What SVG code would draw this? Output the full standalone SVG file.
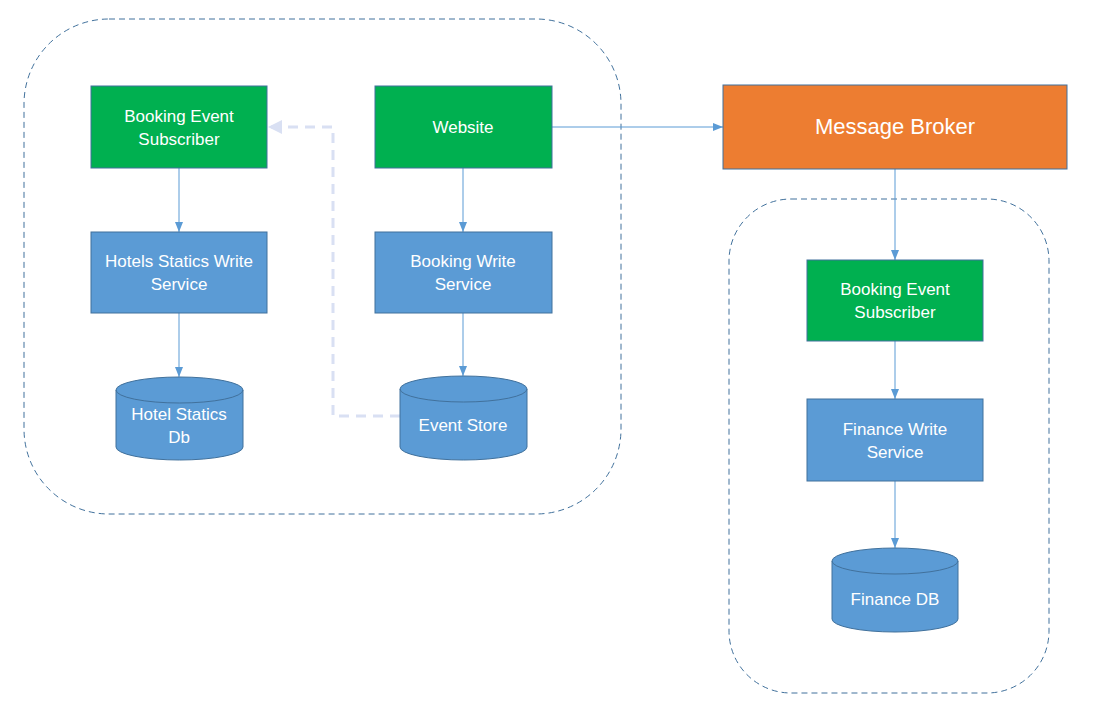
<svg xmlns="http://www.w3.org/2000/svg" width="1104" height="711" viewBox="0 0 1104 711">
<style>
.box{stroke:#41719C;stroke-width:1}
.g{fill:#00B050}
.b{fill:#5B9BD5}
.o{fill:#ED7D31}
.t{font-family:"Liberation Sans",Arial,sans-serif;font-size:17px;fill:#fff;text-anchor:middle}
.cont{fill:none;stroke:#41719C;stroke-width:1;stroke-dasharray:6,4}
.c{fill:none;stroke:#5B9BD5;stroke-width:1}
</style>
<defs>
<marker id="ah" viewBox="0 0 10 10" refX="10" refY="5" markerWidth="10" markerHeight="10" markerUnits="userSpaceOnUse" orient="auto">
<path d="M0,1 L10,5 L0,9 Z" fill="#5B9BD5"/>
</marker>
<marker id="ahl" viewBox="0 0 10 10" refX="10" refY="5" markerWidth="14" markerHeight="14" markerUnits="userSpaceOnUse" orient="auto">
<path d="M0,0 L10,5 L0,10 Z" fill="#D9E0F3"/>
</marker>
</defs>
<g id="containers">
<rect class="cont" x="24" y="19" width="597" height="495" rx="85" ry="85"/>
<rect class="cont" x="729" y="199" width="320" height="494" rx="62" ry="62"/>
</g>
<g id="connectors">
<line class="c" x1="179" y1="168" x2="179" y2="232" marker-end="url(#ah)"/>
<line class="c" x1="179" y1="313" x2="179" y2="377" marker-end="url(#ah)"/>
<line class="c" x1="463" y1="168" x2="463" y2="232" marker-end="url(#ah)"/>
<line class="c" x1="463" y1="313" x2="463" y2="376" marker-end="url(#ah)"/>
<line class="c" x1="552" y1="127" x2="723" y2="127" marker-end="url(#ah)"/>
<line class="c" x1="895" y1="169" x2="895" y2="260" marker-end="url(#ah)"/>
<line class="c" x1="895" y1="341" x2="895" y2="399" marker-end="url(#ah)"/>
<line class="c" x1="895" y1="481" x2="895" y2="548" marker-end="url(#ah)"/>
<path d="M400,416 H333 V127 H268" fill="none" stroke="#D9E0F3" stroke-width="3" stroke-dasharray="10,7" marker-end="url(#ahl)"/>
</g>
<g id="booking-event-subscriber-left">
<rect class="box g" x="91" y="86" width="176" height="82"/>
<text class="t" x="179" y="122">Booking Event</text>
<text class="t" x="179" y="145">Subscriber</text>
</g>
<g id="website">
<rect class="box g" x="375" y="86" width="177" height="82"/>
<text class="t" x="463" y="133">Website</text>
</g>
<g id="hotels-statics-write-service">
<rect class="box b" x="91" y="232" width="176" height="81"/>
<text class="t" x="179" y="267">Hotels Statics Write</text>
<text class="t" x="179" y="290">Service</text>
</g>
<g id="booking-write-service">
<rect class="box b" x="375" y="232" width="177" height="81"/>
<text class="t" x="463" y="267">Booking Write</text>
<text class="t" x="463" y="290">Service</text>
</g>
<g id="hotel-statics-db">
<path class="box b" d="M116,390 A63.5,13 0 0 1 243,390 V447 A63.5,13 0 0 1 116,447 Z"/>
<path fill="none" stroke="#41719C" d="M116,390 A63.5,13 0 0 0 243,390"/>
<text class="t" x="179" y="420">Hotel Statics</text>
<text class="t" x="179" y="443">Db</text>
</g>
<g id="event-store">
<path class="box b" d="M400,389 A63.5,13 0 0 1 527,389 V447 A63.5,13 0 0 1 400,447 Z"/>
<path fill="none" stroke="#41719C" d="M400,389 A63.5,13 0 0 0 527,389"/>
<text class="t" x="463" y="431">Event Store</text>
</g>
<g id="message-broker">
<rect class="box o" x="723" y="85" width="344" height="84"/>
<text class="t" x="895" y="134" style="font-size:22px">Message Broker</text>
</g>
<g id="booking-event-subscriber-right">
<rect class="box g" x="807" y="260" width="176" height="81"/>
<text class="t" x="895" y="295">Booking Event</text>
<text class="t" x="895" y="318">Subscriber</text>
</g>
<g id="finance-write-service">
<rect class="box b" x="807" y="399" width="176" height="82"/>
<text class="t" x="895" y="435">Finance Write</text>
<text class="t" x="895" y="458">Service</text>
</g>
<g id="finance-db">
<path class="box b" d="M832,561 A63,13 0 0 1 958,561 V619 A63,13 0 0 1 832,619 Z"/>
<path fill="none" stroke="#41719C" d="M832,561 A63,13 0 0 0 958,561"/>
<text class="t" x="895" y="605">Finance DB</text>
</g>
</svg>
